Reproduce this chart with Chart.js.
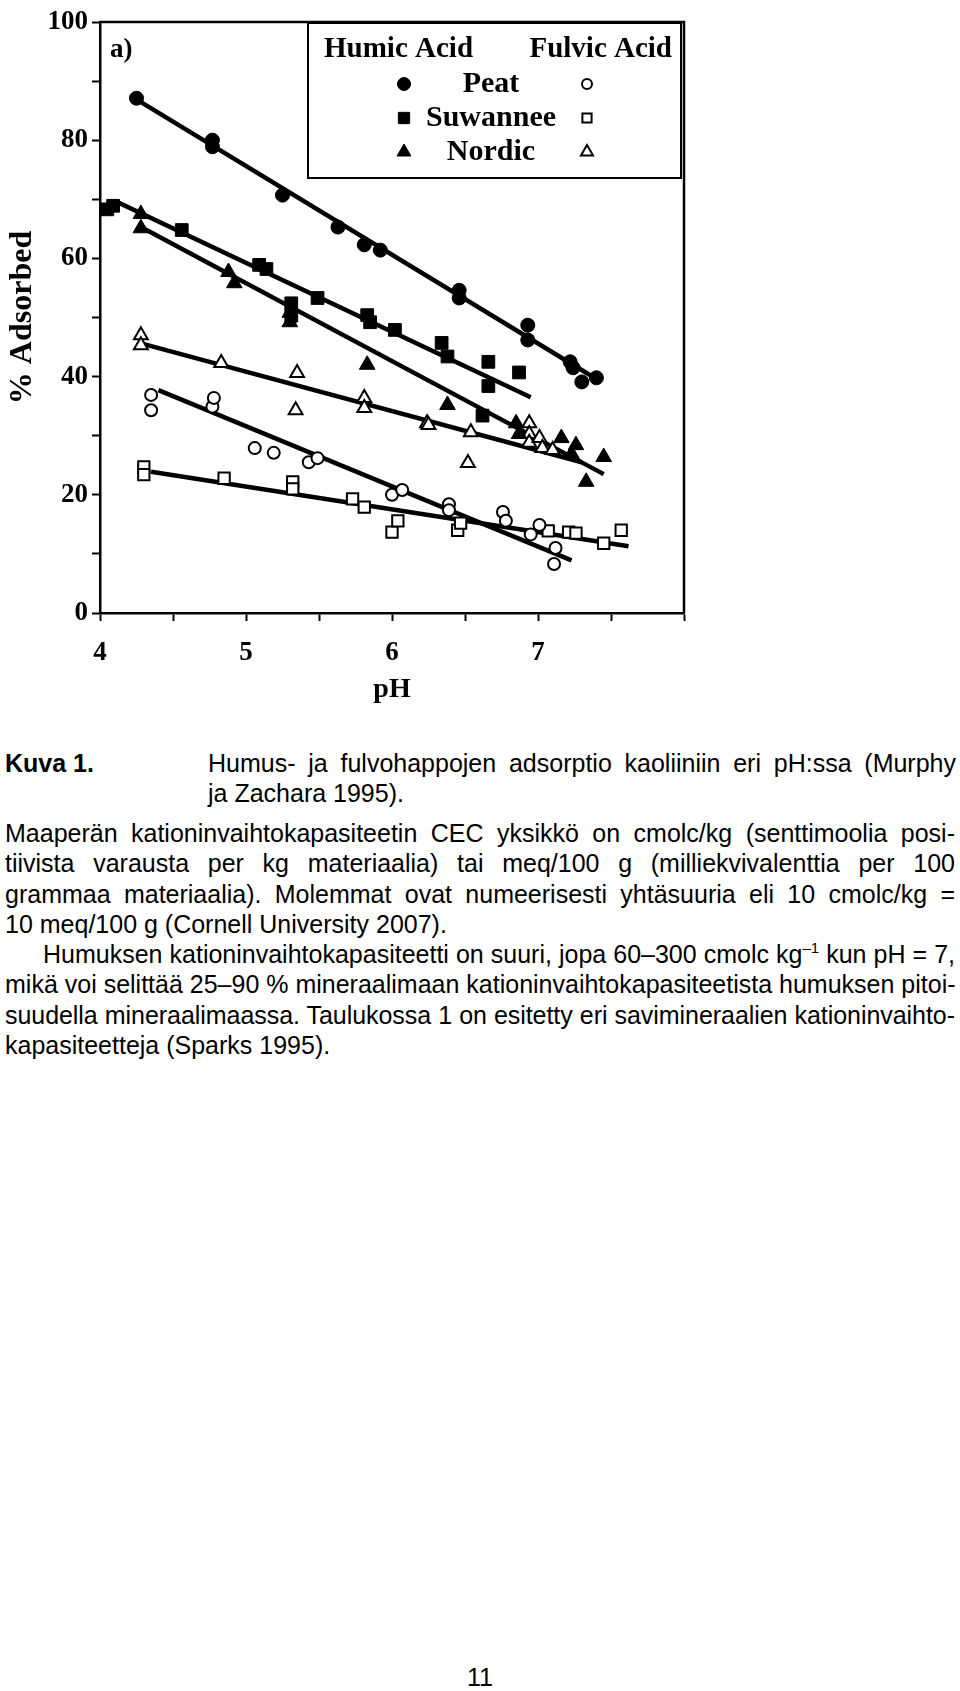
<!DOCTYPE html>
<html>
<head>
<meta charset="utf-8">
<script src="https://cdn.jsdelivr.net/npm/chart.js@4.4.0/dist/chart.umd.min.js"></script>
<style>
  body { margin: 0; background: #fff; width: 960px; height: 1691px; position: relative; overflow: hidden; }
  #wrap { position: absolute; left: 0; top: 0; width: 700px; height: 710px; }
  .txt { position: absolute; font-family: "Liberation Sans", Arial, sans-serif; font-size: 25px; line-height: 30.3px; color: #000; }
  .txt div { white-space: nowrap; }
  .j { text-align: justify; text-align-last: justify; }
  sup { font-size: 15px; line-height: 0; vertical-align: 10px; }
</style>
</head>
<body>
<div id="wrap"><canvas id="adsorption" width="700" height="710"></canvas></div>

<div class="txt" style="left:5px; top:748px; font-weight:bold;">Kuva 1.</div>
<div class="txt" style="left:208px; top:748px; width:748px;">
  <div class="j">Humus- ja fulvohappojen adsorptio kaoliiniin eri pH:ssa (Murphy</div>
  <div>ja Zachara 1995).</div>
</div>
<div class="txt" style="left:5px; top:818px; width:950px;">
  <div class="j">Maaperän kationinvaihtokapasiteetin CEC yksikkö on cmolc/kg (senttimoolia posi-</div>
  <div class="j">tiivista varausta per kg materiaalia) tai meq/100 g (milliekvivalenttia per 100</div>
  <div class="j">grammaa materiaalia). Molemmat ovat numeerisesti yhtäsuuria eli 10 cmolc/kg =</div>
  <div>10 meq/100 g (Cornell University 2007).</div>
  <div class="j" style="text-indent:38px">Humuksen kationinvaihtokapasiteetti on suuri, jopa 60–300 cmolc kg<sup>–1</sup> kun pH = 7,</div>
  <div class="j">mikä voi selittää 25–90 % mineraalimaan kationinvaihtokapasiteetista humuksen pitoi-</div>
  <div class="j">suudella mineraalimaassa. Taulukossa 1 on esitetty eri savimineraalien kationinvaihto-</div>
  <div>kapasiteetteja (Sparks 1995).</div>
</div>
<div class="txt" style="left:0; width:960px; text-align:center; top:1662px;">11</div>

<script>
// Humic acid measurements (filled markers)
const peatHumicPH  = [4.25, 4.77, 4.77, 5.25, 5.63, 5.81, 5.92, 6.46, 6.46, 6.93, 6.93, 7.22, 7.24, 7.30, 7.40];
const peatHumicPct = [87.1, 80.0, 78.9, 70.7, 65.3, 62.3, 61.4, 54.6, 53.3, 48.7, 46.2, 42.5, 41.5, 39.1, 39.8];

const suwHumicPH  = [4.05, 4.09, 4.56, 5.09, 5.14, 5.31, 5.31, 5.49, 5.83, 5.85, 6.02, 6.34, 6.38, 6.62, 6.66, 6.66, 6.87];
const suwHumicPct = [68.3, 68.9, 64.8, 58.9, 58.2, 52.4, 50.3, 53.3, 50.4, 49.2, 47.9, 45.7, 43.4, 33.4, 42.5, 38.4, 40.7];

const nordicHumicPH  = [4.28, 4.28, 4.88, 4.92, 5.30, 5.30, 5.83, 6.38, 6.85, 6.87, 7.16, 7.26, 7.23, 7.33, 7.45];
const nordicHumicPct = [67.5, 65.1, 57.7, 55.8, 50.8, 49.2, 42.0, 35.2, 32.1, 30.3, 29.6, 28.4, 26.9, 22.2, 26.4];

// Fulvic acid measurements (open markers)
const peatFulvicPH  = [4.35, 4.35, 4.77, 4.78, 5.06, 5.19, 5.43, 5.49, 6.00, 6.07, 6.39, 6.39, 6.76, 6.78, 6.95, 7.01, 7.12, 7.11];
const peatFulvicPct = [36.9, 34.3, 34.9, 36.4, 27.9, 27.1, 25.5, 26.2, 20.0, 20.8, 18.4, 17.4, 17.1, 15.6, 13.3, 14.9, 11.0, 8.3];

const suwFulvicPH  = [4.30, 4.30, 4.85, 5.32, 5.32, 5.73, 5.81, 6.00, 6.04, 6.45, 6.47, 7.07, 7.21, 7.26, 7.45, 7.57];
const suwFulvicPct = [24.7, 23.4, 22.8, 22.2, 21.0, 19.3, 17.9, 13.7, 15.6, 14.0, 15.2, 13.9, 13.7, 13.5, 11.8, 14.0];

const nordicFulvicPH  = [4.28, 4.28, 4.83, 5.35, 5.34, 5.81, 5.81, 6.24, 6.25, 6.54, 6.52, 6.94, 6.94, 6.94, 7.01, 7.03, 7.10];
const nordicFulvicPct = [47.0, 45.3, 42.3, 40.6, 34.3, 36.4, 34.7, 32.1, 31.8, 30.6, 25.4, 32.1, 30.3, 28.8, 29.6, 27.9, 27.6];

// Fitted lines (end points)
const peatHumicFitPH = [4.21, 7.42],         peatHumicFitPct = [87.5, 39.3];
const suwHumicFitPH = [4.03, 4.12, 6.95],    suwHumicFitPct = [68.8, 69.5, 36.5];
const nordicHumicFitPH = [4.28, 7.45],       nordicHumicFitPct = [65.3, 23.5];
const peatFulvicFitPH = [4.40, 7.23],        peatFulvicFitPct = [37.7, 8.9];
const suwFulvicFitPH = [4.35, 7.62],         suwFulvicFitPct = [23.9, 11.3];
const nordicFulvicFitPH = [4.30, 7.30],      nordicFulvicFitPct = [45.5, 25.5];

// Legend rows
const sources = ['Peat', 'Suwannee', 'Nordic'];
const legendStyles = [['circle', 6.5, 5], ['rect', 8, 6.5], ['triangle', 8, 7]];

const serif = '"Liberation Serif", "Times New Roman", serif';
const toPoints = (xs, ys) => xs.map((x, i) => ({ x: x, y: ys[i] }));

function markers(label, xs, ys, style, radius, filled) {
    return {
        label: label,
        data: toPoints(xs, ys),
        pointStyle: style,
        pointRadius: radius,
        pointHoverRadius: radius,
        backgroundColor: filled ? '#000' : '#fff',
        borderColor: '#000',
        borderWidth: filled ? 1 : 2,
        showLine: false,
        order: 1
    };
}

function fitLine(label, xs, ys) {
    return {
        label: label,
        data: toPoints(xs, ys),
        showLine: true,
        borderColor: '#000',
        borderWidth: 4.5,
        pointRadius: 0,
        pointHoverRadius: 0,
        tension: 0,
        fill: false,
        order: 2
    };
}

function marker(ctx, style, radius, filled, x, y) {
    ctx.save();
    ctx.fillStyle = filled ? '#000' : '#fff';
    ctx.strokeStyle = '#000';
    ctx.lineWidth = filled ? 1 : 2;
    Chart.helpers.drawPoint(ctx, { pointStyle: style, radius: radius, rotation: 0, borderWidth: ctx.lineWidth }, x, y);
    ctx.restore();
}

// Frame around the plot, legend box and panel label
const framePlugin = {
    id: 'frame',
    afterDraw(chart) {
        const { ctx, chartArea: a } = chart;
        ctx.save();
        ctx.strokeStyle = '#000';
        ctx.lineWidth = 2.5;
        ctx.beginPath();
        ctx.moveTo(a.left, a.top);
        ctx.lineTo(a.right, a.top);
        ctx.lineTo(a.right, a.bottom);
        ctx.stroke();

        const L = a.right - 376, T = a.top;
        ctx.lineWidth = 2;
        ctx.strokeRect(L, T + 1, 373, 155);

        ctx.fillStyle = '#000';
        ctx.textBaseline = 'middle';
        ctx.font = 'bold 27px ' + serif;
        ctx.textAlign = 'left';
        ctx.fillText('a)', a.left + 10, T + 28);

        ctx.font = 'bold 29px ' + serif;
        ctx.fillText('Humic Acid', L + 16, T + 28);
        ctx.textAlign = 'right';
        ctx.fillText('Fulvic Acid', L + 364, T + 28);

        ctx.font = 'bold 30px ' + serif;
        ctx.textAlign = 'center';
        sources.forEach((name, i) => {
            const y = T + 62 + i * 34;
            const [style, rFilled, rOpen] = legendStyles[i];
            marker(ctx, style, rFilled, true, L + 96, y);
            ctx.fillStyle = '#000';
            ctx.fillText(name, L + 183, y);
            marker(ctx, style, rOpen, false, L + 279, y);
        });
        ctx.restore();
    }
};

const config = {
    type: 'scatter',
    data: {
        datasets: [
            markers('Peat humic', peatHumicPH, peatHumicPct, 'circle', 7, true),
            markers('Suwannee humic', suwHumicPH, suwHumicPct, 'rect', 9, true),
            markers('Nordic humic', nordicHumicPH, nordicHumicPct, 'triangle', 9, true),
            markers('Peat fulvic', peatFulvicPH, peatFulvicPct, 'circle', 6, false),
            markers('Suwannee fulvic', suwFulvicPH, suwFulvicPct, 'rect', 8, false),
            markers('Nordic fulvic', nordicFulvicPH, nordicFulvicPct, 'triangle', 8, false),
            fitLine('Peat humic fit', peatHumicFitPH, peatHumicFitPct),
            fitLine('Suwannee humic fit', suwHumicFitPH, suwHumicFitPct),
            fitLine('Nordic humic fit', nordicHumicFitPH, nordicHumicFitPct),
            fitLine('Peat fulvic fit', peatFulvicFitPH, peatFulvicFitPct),
            fitLine('Suwannee fulvic fit', suwFulvicFitPH, suwFulvicFitPct),
            fitLine('Nordic fulvic fit', nordicFulvicFitPH, nordicFulvicFitPct)
        ]
    },
    options: {
        responsive: false,
        animation: false,
        layout: { padding: { top: 22, right: 15, left: 0, bottom: 0 } },
        plugins: { legend: { display: false }, tooltip: { enabled: false } },
        scales: {
            x: {
                type: 'linear',
                min: 4,
                max: 8,
                afterFit: (scale) => { scale.height = 97; },
                border: { display: true, color: '#000', width: 2.5 },
                grid: { display: true, drawOnChartArea: false, drawTicks: true, tickLength: 8, tickWidth: 2, tickColor: '#000' },
                ticks: {
                    stepSize: 0.5,
                    padding: 16,
                    maxRotation: 0,
                    autoSkip: false,
                    color: '#000',
                    font: { family: serif, size: 27, weight: 'bold' },
                    callback: (v) => (Number.isInteger(v) && v < 8 ? v : '')
                },
                title: { display: true, text: 'pH', color: '#000', padding: { top: 0, bottom: 3 }, font: { family: serif, size: 28, weight: 'bold' } }
            },
            y: {
                min: 0,
                max: 100,
                afterFit: (scale) => { scale.width = 100; },
                border: { display: true, color: '#000', width: 2.5 },
                grid: { display: true, drawOnChartArea: false, drawTicks: true, tickLength: 8, tickWidth: 2, tickColor: '#000' },
                ticks: {
                    stepSize: 10,
                    padding: 4,
                    autoSkip: false,
                    color: '#000',
                    font: { family: serif, size: 27, weight: 'bold' },
                    callback: (v) => (v % 20 === 0 ? v : '')
                },
                title: { display: true, text: '% Adsorbed', color: '#000', padding: { top: 4, bottom: 0 }, font: { family: serif, size: 32, weight: 'bold' } }
            }
        }
    },
    plugins: [framePlugin]
};

new Chart(document.getElementById('adsorption').getContext('2d'), config);

// squeeze any justified line that does not fit its box
document.querySelectorAll('.txt div').forEach(el => {
    let ls = 0;
    while (el.scrollWidth > el.clientWidth + 1 && ls > -2) {
        ls -= 0.05;
        el.style.letterSpacing = ls + 'px';
    }
});
</script>
</body>
</html>
